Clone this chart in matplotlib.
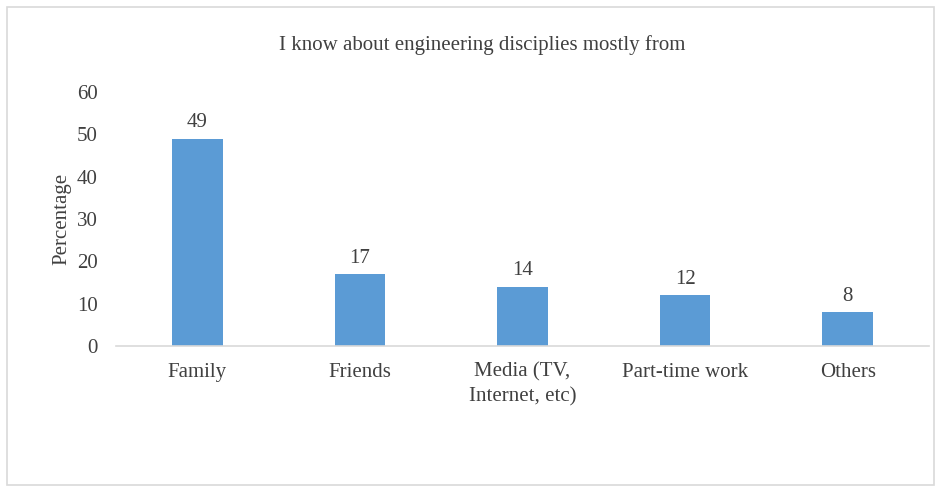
import matplotlib.pyplot as plt
from matplotlib.patches import Rectangle

categories = ["Family", "Friends", "Media (TV,\nInternet, etc)", "Part-time work", "Others"]
values = [49, 17, 14, 12, 8]
yticks = [0, 10, 20, 30, 40, 50, 60]

plt.rcParams['font.family'] = ['Liberation Serif', 'DejaVu Serif']

fig = plt.figure(figsize=(9.39, 4.88), dpi=100)
# light grey frame around the whole chart
fig.patches.append(Rectangle((7 / 939, 3 / 488), 927 / 939, 478 / 488,
                             transform=fig.transFigure, fill=False,
                             edgecolor="#d9d9d9", linewidth=1.2))

ax = fig.add_axes([116 / 939, 1 - 346 / 488, 813 / 939, 254 / 488])
x = range(len(categories))
bars = ax.bar(x, values, width=0.31, color="#5b9bd5")

for b, v in zip(bars, values):
    ax.text(b.get_x() + b.get_width() / 2, v + 1.5, str(v),
            ha="center", va="bottom", fontsize=15, color="#404040")

ax.set_xlim(-0.5, len(categories) - 0.5)
ax.set_ylim(0, 60)
ax.set_yticks(yticks)
ax.set_xticks(list(x))
ax.set_xticklabels(categories, fontsize=15, color="#404040", linespacing=1.4)
ax.tick_params(axis="y", labelsize=15, labelcolor="#404040", length=0, pad=13)
ax.tick_params(axis="x", length=0, pad=12)
for s in ["top", "right", "left"]:
    ax.spines[s].set_visible(False)
ax.spines["bottom"].set_color("#d9d9d9")
ax.spines["bottom"].set_linewidth(1.2)

ax.set_ylabel("Percentage", fontsize=15, color="#404040", labelpad=4)
fig.text(482 / 939, 1 - 45 / 488, "I know about engineering disciplies mostly from",
         ha="center", va="center", fontsize=15, color="#404040")

fig.savefig("out.png", dpi=100)
